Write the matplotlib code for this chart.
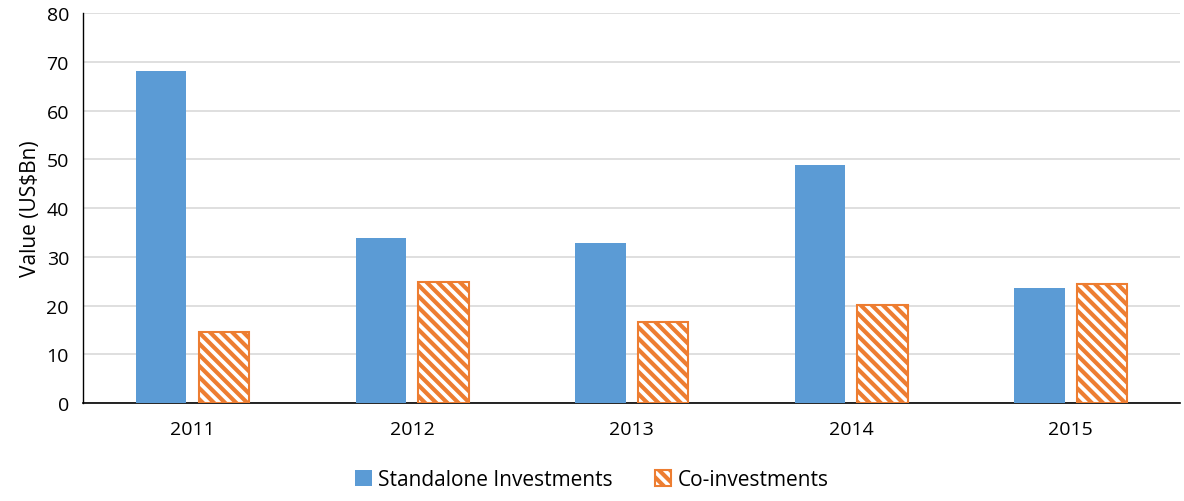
import numpy as np
import matplotlib.pyplot as plt

years = ["2011", "2012", "2013", "2014", "2015"]
standalone = [68.2, 33.9, 32.8, 48.9, 23.7]
co_invest = [14.6, 24.8, 16.6, 20.1, 24.4]

plt.rcParams["font.family"] = ["Open Sans", "DejaVu Sans"]
plt.rcParams["hatch.linewidth"] = 3.0

fig = plt.figure(figsize=(11.84, 5.02), dpi=100)
ax = fig.add_axes([0.070, 0.195, 0.927, 0.777])

X = np.arange(len(years))
w = 0.23
ax.bar(X - 0.143, standalone, width=w, color="#5b9bd5", label="Standalone Investments", zorder=3)
ax.bar(X + 0.143, co_invest, width=w, facecolor="white", edgecolor="#ed7d31",
       hatch="\\\\\\", linewidth=1.5, label="Co-investments", zorder=3)

ax.set_xlim(-0.5, len(years) - 0.5)
ax.set_ylim(0, 80)
ax.set_yticks(range(0, 81, 10))
ax.set_xticks(X)
ax.set_xticklabels(years)
ax.tick_params(axis="both", length=0, labelsize=14, colors="#000000")
ax.tick_params(axis="x", pad=12)
ax.tick_params(axis="y", pad=10)
ax.set_ylabel("Value (US$Bn)", fontsize=15, labelpad=4)

ax.grid(axis="y", color="#d9d9d9", linewidth=1.2, zorder=0)
for s in ["top", "right"]:
    ax.spines[s].set_visible(False)
ax.spines["left"].set_color("#000000")
ax.spines["left"].set_linewidth(1.0)
ax.spines["bottom"].set_color("#000000")
ax.spines["bottom"].set_linewidth(1.2)

fig.legend(loc="lower center", bbox_to_anchor=(0.5, -0.015), ncol=2, frameon=False,
           fontsize=15, handlelength=0.8, handleheight=0.8, columnspacing=2.0,
           handletextpad=0.3)

fig.savefig("out.png", dpi=100)
